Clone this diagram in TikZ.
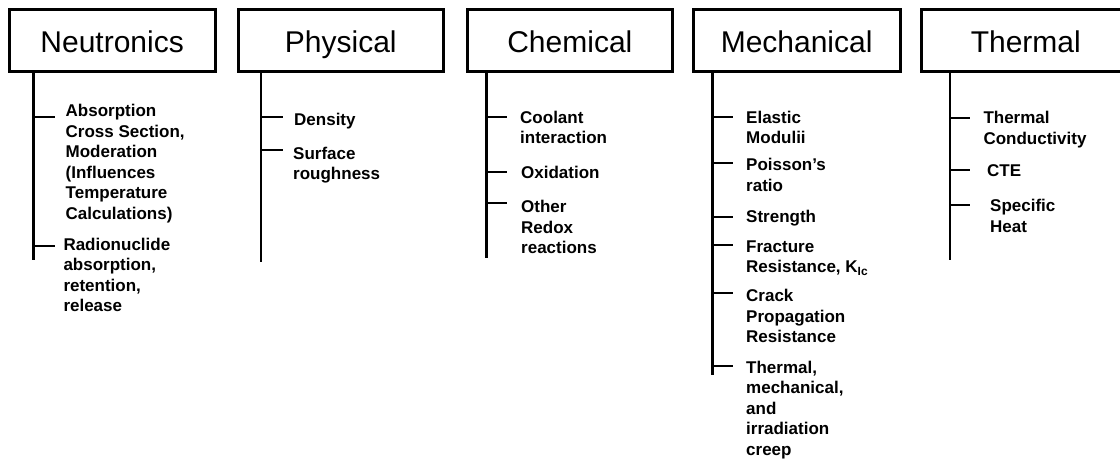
\documentclass[tikz,border=0pt]{standalone}
\usepackage{fontspec}
\setmainfont{Liberation Sans}
\newcommand\toplines[1]{\begin{tabular}[t]{@{}l@{}}#1\end{tabular}}
\begin{document}
\begin{tikzpicture}[x=1pt,y=-1pt,
  catbox/.style={draw=black,line width=3pt,inner sep=0pt,minimum height=61.7pt,
    text height=23.3pt,text depth=0pt,font=\fontsize{30}{36}\selectfont},
  item/.style={inner sep=0pt,anchor=base west,
    font=\fontsize{17}{20.5}\selectfont\bfseries},
  vline/.style={draw=black,line width=2.6pt},
  tickln/.style={draw=black,line width=2.3pt}]
\useasboundingbox (0,0) rectangle (1120,460);
\newcommand\itm[7]{%
  \node[item] (#1) at (#3,#4) {\toplines{#7}};
  \coordinate (#1t) at (#6,#5);
  \draw[tickln] (#1t -| #2top) -- (#1t);}
% category boxes
\node[catbox,minimum width=205.7pt] (neu) at (112.15,40.85) {Neutronics};
\node[catbox,minimum width=205pt] (phy) at (340.8,40.85) {Physical};
\node[catbox,minimum width=205.7pt] (che) at (569.85,40.85) {Chemical};
\node[catbox,minimum width=206.7pt] (mec) at (796.65,40.85) {Mechanical};
\node[catbox,minimum width=208pt] (the) at (1025.8,40.85) {Thermal};
% vertical lines
\coordinate (NEUtop) at (33.3,71.7);  \coordinate (NEUbot) at (33.3,260);
\coordinate (PHYtop) at (261,71.7);   \coordinate (PHYbot) at (261,262);
\coordinate (CHEtop) at (486.7,71.7); \coordinate (CHEbot) at (486.7,258);
\coordinate (MECtop) at (712.3,71.7); \coordinate (MECbot) at (712.3,375);
\coordinate (THEtop) at (950,71.7);   \coordinate (THEbot) at (950,260);
\draw[vline] (NEUtop) -- (NEUbot);
\draw[vline] (PHYtop) -- (PHYbot);
\draw[vline] (CHEtop) -- (CHEbot);
\draw[vline] (MECtop) -- (MECbot);
\draw[vline] (THEtop) -- (THEbot);
% Neutronics
\itm{n1}{NEU}{65.5}{116.7}{117}{55}{Absorption\\Cross Section,\\Moderation\\(Influences\\Temperature\\Calculations)}
\itm{n2}{NEU}{63.3}{250}{246}{55}{Radionuclide\\absorption,\\retention,\\release}
% Physical
\itm{p1}{PHY}{294}{125}{117}{282.7}{Density}
\itm{p2}{PHY}{293}{159.3}{150}{282.7}{Surface\\roughness}
% Chemical
\itm{c1}{CHE}{520}{123.3}{116.7}{506.7}{Coolant\\interaction}
\itm{c2}{CHE}{521}{178.3}{171.7}{506.7}{Oxidation}
\itm{c3}{CHE}{521}{212.7}{203.3}{506.7}{Other\\Redox\\reactions}
% Mechanical
\itm{m1}{MEC}{746}{123.3}{116.7}{733.3}{Elastic\\Modulii}
\itm{m2}{MEC}{746}{170.7}{163.3}{733.3}{Poisson’s\\ratio}
\itm{m3}{MEC}{746}{222.7}{216.7}{733.3}{Strength}
\itm{m4}{MEC}{746}{252.3}{245}{733.3}{Fracture\\Resistance, K\textsubscript{Ic}}
\itm{m5}{MEC}{746}{301.7}{293.3}{733.3}{Crack\\Propagation\\Resistance}
\itm{m6}{MEC}{746}{373.3}{366}{733.3}{Thermal,\\mechanical,\\and\\irradiation\\creep}
% Thermal
\itm{t1}{THE}{983.3}{124}{118.3}{970}{Thermal\\Conductivity}
\itm{t2}{THE}{987}{176.7}{170}{970}{CTE}
\itm{t3}{THE}{990}{211.7}{205}{970}{Specific\\Heat}
\end{tikzpicture}
\end{document}
